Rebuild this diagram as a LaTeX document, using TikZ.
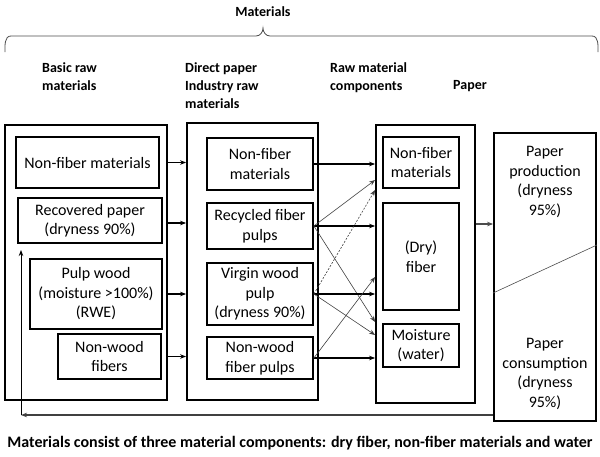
\documentclass[tikz,border=0pt]{standalone}
\usepackage{fontspec}
\setmainfont{Carlito}
\usetikzlibrary{arrows.meta,positioning,calc}
\tikzset{outer/.style={draw, line width=1.8pt, inner sep=0pt}}
\tikzset{box/.style={draw, line width=1.8pt, align=center, inner sep=2pt, font=\fontsize{16}{19.5}\selectfont}}
\tikzset{label/.style={align=center, inner sep=0pt, font=\fontsize{16}{19.5}\selectfont}}
\tikzset{head/.style={anchor=north west, align=left, inner sep=0pt, font=\fontsize{14}{18}\selectfont\bfseries}}
\tikzset{arr/.style={draw, -{Stealth[length=6pt,width=4.5pt]}, line width=1.1pt}}
\tikzset{cross/.style={arr, line width=0.6pt, draw=black!75}}

\begin{document}
\begin{tikzpicture}[x=1pt, y=-1pt]
	\useasboundingbox (0,0) rectangle (600,456);
	% top
	\node[font=\fontsize{14}{18}\selectfont\bfseries] (mat) at (263,12) {Materials};
	\draw[black!70, line width=0.8pt] (5,52) to[out=90,in=180] (11,36) -- (256,36) to[out=0,in=-90] (263,28)
		to[out=-90,in=180] (270,36) -- (592,36) to[out=0,in=90] (598,52);
	\node[head] (hA) at (42,62) {Basic raw\\materials};
	\node[head] (hB) at (185,62) {Direct paper\\Industry raw\\materials};
	\node[head] (hC) at (330,62) {Raw material\\components};
	\node[head] (hD) at (453,80) {Paper};
	
	% basic raw materials
	\node[outer, minimum width=162pt, minimum height=275pt] (colA) at (86,262.5) {};
	\node[box, minimum width=143pt, minimum height=51pt] (nfA) at (87.5,162.5) {Non-fiber materials};
	\node[box, minimum width=144pt, minimum height=45pt] (recA) at (90,220.5) {Recovered paper\\(dryness 90\%)};
	\node[box, minimum width=132pt, minimum height=70pt] (pulpA) at (96,294) {Pulp wood\\(moisture >100\%)\\(RWE)};
	\node[box, minimum width=103pt, minimum height=45pt] (nwA) at (109.5,356.5) {Non-wood\\fibers};
	
	% direct paper industry raw materials
	\node[outer, minimum width=131pt, minimum height=277pt] (colB) at (252.5,261.5) {};
	\node[box, minimum width=106pt, minimum height=52pt] (nfB) at (260,164) {Non-fiber\\materials};
	\node[box, minimum width=106pt, minimum height=46pt] (recB) at (260,226) {Recycled fiber\\pulps};
	\node[box, minimum width=106pt, minimum height=62pt, inner sep=1pt] (virB) at (260,294) {Virgin wood\\pulp\\(dryness 90\%)};
	\node[box, minimum width=106pt, minimum height=42pt] (nwB) at (260,358) {Non-wood\\fiber pulps};
	
	% raw material components
	\node[outer, minimum width=99pt, minimum height=278pt] (colC) at (425.5,264) {};
	\node[box, minimum width=76pt, minimum height=51pt] (nfC) at (421,162.5) {Non-fiber\\materials};
	\node[box, minimum width=76pt, minimum height=107pt] (fibC) at (421,256.5) {(Dry)\\fiber};
	\node[box, minimum width=76pt, minimum height=43pt] (moiC) at (421,345.5) {Moisture\\(water)};
	
	% paper
	\node[outer, minimum width=102pt, minimum height=288pt] (paper) at (545,277) {};
	\node[label] (prod) at (545,182) {Paper\\production\\(dryness\\95\%)};
	\node[label] (cons) at (545,374) {Paper\\consumption\\(dryness\\95\%)};
	\draw[line width=0.6pt, black!70] ([yshift=-16pt]paper.west) -- ([yshift=32pt]paper.east);
	
	\draw[arr] (colA.east |- nfA.east) -- (colB.west |- nfA.east);
	\draw[arr] (colA.east |- 0,223) -- (colB.west |- 0,223);
	\draw[arr] (colA.east |- pulpA.east) -- (colB.west |- pulpA.east);
	\draw[arr] (colA.east |- nwA.east) -- (colB.west |- nwA.east);
	
	\draw[arr] (nfB.east) -- (colC.west |- nfB.east);
	\draw[arr] (recB.east) -- (colC.west |- recB.east);
	\draw[cross] (recB.east) -- (colC.west |- 0,180);
	\draw[cross] (recB.east) -- (colC.west |- 0,322);
	\draw[arr] (virB.east) -- (colC.west |- virB.east);
	\draw[cross, dash pattern=on 2pt off 1.5pt] (virB.east) -- (colC.west |- 0,190);
	\draw[cross] (virB.east) -- (colC.west |- 0,335);
	\draw[arr] (nwB.east) -- (colC.west |- nwB.east);
	\draw[cross] (nwB.east) -- (colC.west |- 0,277);
	
	\draw[arr, draw=black!70] (colC.east |- 0,224) -- (paper.west |- 0,224);
	
	% back to recovered paper
	\coordinate (ret) at (21,415);
	\coordinate (back) at (21,250);
	\draw[arr, line width=1.5pt, draw=black!75] (paper.west |- ret) -- (ret);
	\draw[arr, line width=1pt] (ret) -- (back);
	
	\node[font=\fontsize{16}{19}\selectfont\bfseries] (note) at (300,443) {Materials consist of three material components: dry fiber, non-fiber materials and water};
\end{tikzpicture}
\end{document}
